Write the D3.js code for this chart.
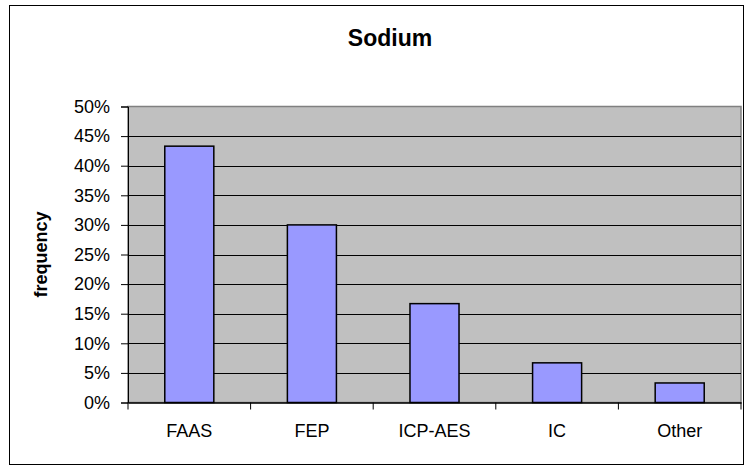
<!DOCTYPE html>
<html><head><meta charset="utf-8">
<script src="https://cdn.jsdelivr.net/npm/d3@7/dist/d3.min.js"></script>
<style>html,body{margin:0;padding:0;background:#fff;}svg{display:block;}</style>
</head><body>
<script>
const categories = ["FAAS", "FEP", "ICP-AES", "IC", "Other"];
const values = [0.433, 0.300, 0.167, 0.067, 0.033];
const yTicks = [0, 0.05, 0.10, 0.15, 0.20, 0.25, 0.30, 0.35, 0.40, 0.45, 0.50];
const title = "Sodium";
const yTitle = "frequency";

const W = 746, H = 468;
const plot = {left: 128, right: 741, top: 106.5, bottom: 402.5};
const svg = d3.select("body").append("svg").attr("width", W).attr("height", H);
const font = "'Liberation Sans', Arial, sans-serif";

svg.append("rect").attr("x", 9.5).attr("y", 5.5).attr("width", 734).attr("height", 459)
  .attr("fill", "#fff").attr("stroke", "#000").attr("stroke-width", 1);

const x = d3.scaleBand().domain(categories).range([plot.left, plot.right]).paddingInner(0.6).paddingOuter(0.3);
const xb = d3.scaleBand().domain(categories).range([plot.left, plot.right]);
const y = d3.scaleLinear().domain([0, 0.5]).range([plot.bottom, plot.top]);

svg.append("rect").attr("x", plot.left).attr("y", plot.top)
  .attr("width", plot.right - plot.left).attr("height", plot.bottom - plot.top)
  .attr("fill", "#c0c0c0").attr("stroke", "#808080").attr("stroke-width", 1.5);

svg.append("g").selectAll("line").data(yTicks.filter(d => d > 0 && d < 0.5)).join("line")
  .attr("x1", plot.left).attr("x2", plot.right)
  .attr("y1", d => Math.round(y(d)) + 0.5).attr("y2", d => Math.round(y(d)) + 0.5)
  .attr("stroke", "#000").attr("stroke-width", 1);

svg.append("g").selectAll("rect").data(values).join("rect")
  .attr("x", (d, i) => x(categories[i]))
  .attr("y", d => y(d))
  .attr("width", x.bandwidth())
  .attr("height", d => plot.bottom - y(d))
  .attr("fill", "#9999ff").attr("stroke", "#000").attr("stroke-width", 1.5);

// y axis
const yAxis = d3.axisLeft(y).tickValues(yTicks).tickFormat(d3.format(".0%")).tickSize(7).tickPadding(11);
const gy = svg.append("g").attr("transform", `translate(${plot.left},0)`).call(yAxis);
gy.select(".domain").attr("stroke", "#000").attr("stroke-width", 1);
gy.selectAll(".tick line").attr("stroke", "#000");
gy.selectAll(".tick text").attr("font-family", font).attr("font-size", 18).attr("fill", "#000");

// x axis
const xAxis = d3.axisBottom(xb).tickSize(0).tickPadding(22);
const gx = svg.append("g").attr("transform", `translate(0,${plot.bottom})`).call(xAxis);
gx.select(".domain").attr("stroke", "#000").attr("stroke-width", 1.5);
gx.selectAll(".tick text").attr("font-family", font).attr("font-size", 18).attr("fill", "#000");
gx.selectAll(".bnd").data(categories.concat([null])).join("line").attr("class", "bnd")
  .attr("x1", (d, i) => d ? xb(d) : plot.right).attr("x2", (d, i) => d ? xb(d) : plot.right)
  .attr("y1", 0).attr("y2", 7).attr("stroke", "#000").attr("stroke-width", 1);

svg.append("text").attr("x", 390).attr("y", 46)
  .attr("text-anchor", "middle").attr("font-family", font).attr("font-weight", "bold")
  .attr("font-size", 23).text(title);

svg.append("text").attr("transform", `translate(47,${(plot.top + plot.bottom) / 2}) rotate(-90)`)
  .attr("text-anchor", "middle").attr("font-family", font).attr("font-weight", "bold")
  .attr("font-size", 18).text(yTitle);
</script>
</body></html>
